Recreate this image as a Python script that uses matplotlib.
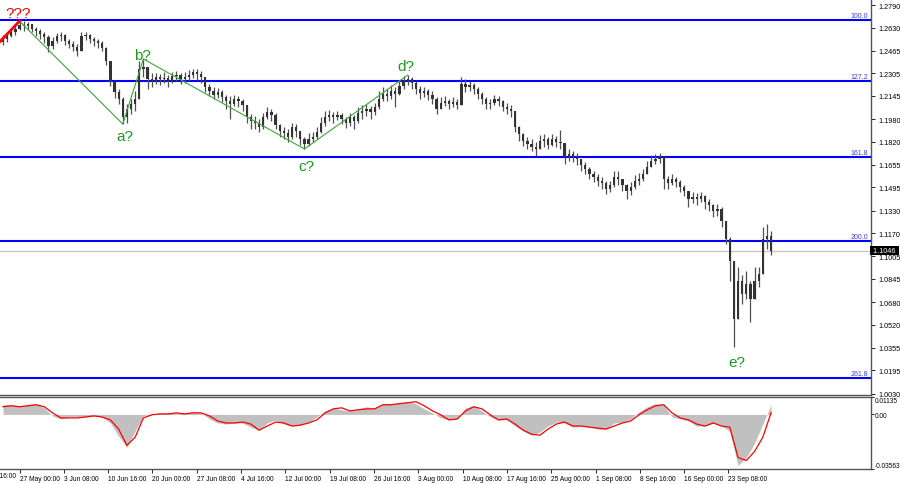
import numpy as np
import matplotlib
matplotlib.use("Agg")
import matplotlib.pyplot as plt
from matplotlib.transforms import blended_transform_factory

plt.rcParams['font.family'] = ['Liberation Sans', 'DejaVu Sans']

# 12h candles, GBP/USD, 19 May - 27 Sep
first_open = 1.2527
closes = [1.2549, 1.2570, 1.2598, 1.2620, 1.2648, 1.2641, 1.2655, 1.2620, 1.2605, 1.2584,
          1.2563, 1.2499, 1.2534, 1.2570, 1.2577, 1.2534, 1.2513, 1.2492, 1.2463, 1.2570,
          1.2577, 1.2549, 1.2534, 1.2520, 1.2485, 1.2392, 1.2250, 1.2172, 1.2123, 1.1995,
          1.2052, 1.2087, 1.2123, 1.2336, 1.2350, 1.2265, 1.2250, 1.2279, 1.2265, 1.2272,
          1.2250, 1.2286, 1.2293, 1.2265, 1.2279, 1.2293, 1.2314, 1.2300, 1.2279, 1.2208,
          1.2179, 1.2151, 1.2172, 1.2137, 1.2108, 1.2087, 1.2123, 1.2108, 1.2080, 1.1995,
          1.1966, 1.1952, 1.1924, 1.1995, 1.2030, 1.2009, 1.1938, 1.1895, 1.1881, 1.1853,
          1.1924, 1.1895, 1.1839, 1.1803, 1.1839, 1.1853, 1.1888, 1.1952, 1.1995, 1.2009,
          1.1995, 1.2009, 1.1981, 1.1952, 1.1995, 1.1966, 1.2023, 1.2037, 1.2052, 1.2030,
          1.2066, 1.2123, 1.2158, 1.2144, 1.2179, 1.2158, 1.2215, 1.2250, 1.2265, 1.2236,
          1.2194, 1.2165, 1.2179, 1.2151, 1.2123, 1.2052, 1.2094, 1.2108, 1.2087, 1.2101,
          1.2080, 1.2229, 1.2208, 1.2222, 1.2194, 1.2158, 1.2123, 1.2087, 1.2094, 1.2123,
          1.2108, 1.2066, 1.2052, 1.2037, 1.1924, 1.1874, 1.1824, 1.1803, 1.1782, 1.1768,
          1.1824, 1.1839, 1.1796, 1.1839, 1.1817, 1.1810, 1.1711, 1.1732, 1.1711, 1.1697,
          1.1654, 1.1626, 1.1590, 1.1569, 1.1540, 1.1526, 1.1484, 1.1512, 1.1569, 1.1555,
          1.1512, 1.1469, 1.1498, 1.1540, 1.1555, 1.1590, 1.1640, 1.1682, 1.1697, 1.1711,
          1.1555, 1.1526, 1.1555, 1.1533, 1.1498, 1.1469, 1.1413, 1.1427, 1.1413, 1.1434,
          1.1391, 1.1370, 1.1327, 1.1342, 1.1257, 1.1129, 1.0972, 1.0561, 1.0830, 1.0738,
          1.0809, 1.0703, 1.0830, 1.0880, 1.1129, 1.1150, 1.1046]
highs = [1.2577, 1.2598, 1.2627, 1.2648, 1.2676, 1.2676, 1.2669, 1.2655, 1.2634, 1.2620,
         1.2598, 1.2577, 1.2563, 1.2591, 1.2598, 1.2584, 1.2549, 1.2534, 1.2513, 1.2598,
         1.2598, 1.2584, 1.2563, 1.2549, 1.2534, 1.2492, 1.2392, 1.2250, 1.2194, 1.2137,
         1.2087, 1.2123, 1.2179, 1.2392, 1.2407, 1.2350, 1.2307, 1.2307, 1.2300, 1.2314,
         1.2293, 1.2314, 1.2321, 1.2307, 1.2314, 1.2329, 1.2336, 1.2336, 1.2321, 1.2279,
         1.2229, 1.2208, 1.2201, 1.2187, 1.2151, 1.2144, 1.2151, 1.2144, 1.2123, 1.2080,
         1.2016, 1.2002, 1.1981, 1.2023, 1.2066, 1.2052, 1.2023, 1.1945, 1.1924, 1.1910,
         1.1952, 1.1945, 1.1895, 1.1853, 1.1881, 1.1888, 1.1924, 1.1995, 1.2037, 1.2045,
         1.2030, 1.2037, 1.2023, 1.1995, 1.2023, 1.2009, 1.2066, 1.2080, 1.2087, 1.2073,
         1.2094, 1.2179, 1.2208, 1.2194, 1.2222, 1.2208, 1.2250, 1.2286, 1.2293, 1.2279,
         1.2250, 1.2215, 1.2208, 1.2194, 1.2179, 1.2137, 1.2137, 1.2144, 1.2123, 1.2137,
         1.2123, 1.2279, 1.2265, 1.2250, 1.2236, 1.2208, 1.2172, 1.2137, 1.2123, 1.2151,
         1.2144, 1.2116, 1.2094, 1.2080, 1.2037, 1.1931, 1.1881, 1.1853, 1.1839, 1.1817,
         1.1867, 1.1874, 1.1853, 1.1874, 1.1860, 1.1903, 1.1803, 1.1768, 1.1753, 1.1739,
         1.1697, 1.1675, 1.1640, 1.1611, 1.1590, 1.1569, 1.1540, 1.1540, 1.1611, 1.1611,
         1.1555, 1.1519, 1.1533, 1.1583, 1.1597, 1.1626, 1.1682, 1.1725, 1.1732, 1.1739,
         1.1711, 1.1576, 1.1590, 1.1569, 1.1548, 1.1512, 1.1469, 1.1462, 1.1455, 1.1462,
         1.1441, 1.1413, 1.1377, 1.1377, 1.1356, 1.1257, 1.1143, 1.0880, 1.0930, 1.0873,
         1.0901, 1.0830, 1.0930, 1.0930, 1.1214, 1.1235, 1.1185]
lows = [1.2506, 1.2527, 1.2563, 1.2577, 1.2612, 1.2605, 1.2612, 1.2598, 1.2570, 1.2549,
        1.2520, 1.2456, 1.2478, 1.2520, 1.2534, 1.2506, 1.2485, 1.2463, 1.2428, 1.2463,
        1.2542, 1.2520, 1.2499, 1.2485, 1.2463, 1.2364, 1.2215, 1.2130, 1.2087, 1.1945,
        1.1952, 1.2016, 1.2037, 1.2123, 1.2279, 1.2194, 1.2208, 1.2229, 1.2222, 1.2236,
        1.2208, 1.2236, 1.2250, 1.2229, 1.2236, 1.2250, 1.2272, 1.2258, 1.2236, 1.2172,
        1.2144, 1.2123, 1.2130, 1.2101, 1.2052, 1.1981, 1.2073, 1.2066, 1.2037, 1.1952,
        1.1910, 1.1910, 1.1888, 1.1910, 1.1981, 1.1966, 1.1910, 1.1853, 1.1839, 1.1817,
        1.1839, 1.1853, 1.1796, 1.1768, 1.1789, 1.1817, 1.1839, 1.1881, 1.1931, 1.1966,
        1.1952, 1.1974, 1.1945, 1.1917, 1.1931, 1.1910, 1.1952, 1.1981, 1.2002, 1.1981,
        1.2009, 1.2052, 1.2108, 1.2108, 1.2123, 1.2066, 1.2151, 1.2194, 1.2222, 1.2194,
        1.2158, 1.2123, 1.2137, 1.2116, 1.2087, 1.2016, 1.2052, 1.2073, 1.2052, 1.2066,
        1.2052, 1.2080, 1.2172, 1.2179, 1.2158, 1.2123, 1.2087, 1.2052, 1.2052, 1.2080,
        1.2073, 1.2037, 1.2016, 1.1995, 1.1888, 1.1824, 1.1789, 1.1768, 1.1753, 1.1718,
        1.1768, 1.1782, 1.1768, 1.1789, 1.1782, 1.1768, 1.1661, 1.1682, 1.1675, 1.1654,
        1.1611, 1.1590, 1.1555, 1.1533, 1.1505, 1.1484, 1.1448, 1.1462, 1.1498, 1.1512,
        1.1469, 1.1413, 1.1441, 1.1484, 1.1512, 1.1540, 1.1590, 1.1640, 1.1661, 1.1668,
        1.1484, 1.1484, 1.1512, 1.1498, 1.1462, 1.1434, 1.1356, 1.1384, 1.1370, 1.1391,
        1.1342, 1.1327, 1.1285, 1.1292, 1.1214, 1.1093, 1.0830, 1.0362, 1.0561, 1.0667,
        1.0703, 1.0539, 1.0759, 1.0788, 1.0880, 1.1058, 1.1015]

# oscillator, one value every 2 candles
macd = [0.0063, 0.0063, 0.0056, 0.0063, 0.0070, 0.0043, -0.0010, -0.0030, -0.0017, -0.0017,
        -0.0017, -0.0010, -0.0017, -0.0056, -0.0142, -0.0215, -0.0109, -0.0010, 0.0003, 0.0010,
        0.0010, 0.0010, 0.0010, 0.0017, 0.0010, -0.0030, -0.0056, -0.0063, -0.0056, -0.0056,
        -0.0083, -0.0103, -0.0056, -0.0036, -0.0063, -0.0076, -0.0070, -0.0050, -0.0017, 0.0023,
        0.0043, 0.0030, 0.0023, 0.0036, 0.0050, 0.0043, 0.0070, 0.0070, 0.0076, 0.0083,
        0.0070, 0.0036, 0.0010, -0.0023, -0.0036, -0.0030, 0.0043, 0.0056, 0.0023, -0.0017,
        -0.0036, -0.0036, -0.0076, -0.0109, -0.0136, -0.0116, -0.0076, -0.0050, -0.0056, -0.0083,
        -0.0076, -0.0083, -0.0096, -0.0096, -0.0056, -0.0050, -0.0030, 0.0017, 0.0050, 0.0070,
        0.0063, -0.0017, -0.0030, -0.0043, -0.0076, -0.0076, -0.0056, -0.0076, -0.0109, -0.0334,
        -0.0281, -0.0189, -0.0063, 0.0063]
signal = [0.0050, 0.0056, 0.0050, 0.0056, 0.0063, 0.0050, 0.0010, -0.0023, -0.0023, -0.0023,
          -0.0017, -0.0010, -0.0017, -0.0036, -0.0096, -0.0202, -0.0149, -0.0023, -0.0003, 0.0003,
          0.0003, 0.0010, 0.0003, 0.0010, 0.0010, -0.0010, -0.0043, -0.0056, -0.0056, -0.0050,
          -0.0063, -0.0103, -0.0076, -0.0050, -0.0056, -0.0076, -0.0070, -0.0056, -0.0036, 0.0010,
          0.0036, 0.0043, 0.0023, 0.0030, 0.0036, 0.0036, 0.0063, 0.0063, 0.0070, 0.0076,
          0.0083, 0.0056, 0.0023, -0.0003, -0.0036, -0.0030, 0.0023, 0.0050, 0.0036, -0.0003,
          -0.0036, -0.0030, -0.0063, -0.0103, -0.0129, -0.0136, -0.0096, -0.0063, -0.0050, -0.0076,
          -0.0076, -0.0083, -0.0089, -0.0096, -0.0076, -0.0056, -0.0043, -0.0003, 0.0030, 0.0056,
          0.0063, 0.0010, -0.0023, -0.0036, -0.0063, -0.0076, -0.0056, -0.0076, -0.0083, -0.0281,
          -0.0301, -0.0242, -0.0149, 0.0010]

fib_names = ['100.0', '127.2', '161.8', '200.0', '261.8']
fib_levels = [1.2684, 1.2252, 1.1712, 1.1114, 1.0142]
last_price = 1.1046

price_ticks = [1.2790, 1.2630, 1.2465, 1.2305, 1.2145, 1.1980, 1.1820, 1.1655, 1.1495,
               1.1330, 1.1170, 1.1005, 1.0845, 1.0680, 1.0520, 1.0355, 1.0195, 1.0030]
date_labels = ['19 May 16:00', '27 May 00:00', '3 Jun 08:00', '10 Jun 16:00', '20 Jun 00:00',
               '27 Jun 08:00', '4 Jul 16:00', '12 Jul 00:00', '19 Jul 08:00', '26 Jul 16:00',
               '3 Aug 00:00', '10 Aug 08:00', '17 Aug 16:00', '25 Aug 00:00', '1 Sep 08:00',
               '8 Sep 16:00', '16 Sep 00:00', '23 Sep 08:00']

# wave marks: candle index of each turning point
wave_idx = [4, 29, 34, 73, 98]
prev_wave_idx = [-3, 4]
prev_wave_price = [1.2461, 1.2676]

closes = np.array(closes)
opens = np.concatenate([[first_open], closes[:-1]])
highs = np.maximum(np.array(highs), np.maximum(opens, closes))
lows = np.minimum(np.array(lows), np.minimum(opens, closes))
idx = np.arange(len(closes))
ind_x = np.arange(0, len(closes), 2)

fig = plt.figure(figsize=(9, 4.85), dpi=100)
W, H = 900, 485
ax = fig.add_axes([0, 1 - 396 / H, 871 / W, 396 / H])
axi = fig.add_axes([0, 1 - 470 / H, 871 / W, 72 / H], sharex=ax)

xmin, xmax = -0.73, 210.2
ax.set_xlim(xmin, xmax)
ax.set_ylim(1.0021, 1.2833)

# candles
ax.vlines(idx, lows, highs, color='#505050', lw=0.9, zorder=3)
ax.bar(idx, np.abs(closes - opens), bottom=np.minimum(opens, closes), width=0.55,
       color='#333333', zorder=3)

# fibo levels
ytrans = blended_transform_factory(ax.transAxes, ax.transData)
for name, lvl in zip(fib_names, fib_levels):
    ax.axhline(lvl, color='#0000ff', lw=1.5, zorder=2)
    ax.text(0.997, lvl + 0.0007, name, transform=ytrans,
            ha='right', va='bottom', color='#3b3bff', fontsize=5)
ax.axhline(last_price, color='#c8c8c8', lw=1, zorder=1)

# waves
wave_price = [highs[wave_idx[0]], lows[wave_idx[1]], highs[wave_idx[2]],
              lows[wave_idx[3]], highs[wave_idx[4]]]
ax.plot(wave_idx, wave_price, color='#3aa83a', lw=0.8, zorder=4)
ax.plot(prev_wave_idx, prev_wave_price, color='#ff0000', lw=2, zorder=4)
green = '#1d9a1d'
ax.text(3.6, 1.2731, '???', color='#ff0000', fontsize=11, ha='center', va='center')
ax.text(29.5, 1.1862, 'a?', color=green, fontsize=11, ha='center', va='center')
ax.text(33.8, 1.2437, 'b?', color=green, fontsize=11, ha='center', va='center')
ax.text(73.6, 1.1647, 'c?', color=green, fontsize=11, ha='center', va='center')
ax.text(97.6, 1.2357, 'd?', color=green, fontsize=11, ha='center', va='center')
ax.text(177.7, 1.0255, 'e?', color=green, fontsize=11, ha='center', va='center')

# price axis
ax.yaxis.tick_right()
ax.set_yticks(price_ticks)
ax.set_yticklabels([f'{t:.4f}' for t in price_ticks])
ax.tick_params(axis='y', length=3, width=0.6, labelsize=5.2, pad=2, colors='black')
ax.tick_params(axis='x', bottom=False, labelbottom=False)
for s in ['left', 'top']:
    ax.spines[s].set_visible(False)
for s in ['right', 'bottom']:
    ax.spines[s].set_color('#555555')
    ax.spines[s].set_linewidth(1)
ax.text(1.0, last_price, ' 1.1046 ', transform=ytrans,
        ha='left', va='center', color='white', fontsize=5.2,
        bbox=dict(facecolor='black', edgecolor='none', pad=0.8), clip_on=False, zorder=10)

# oscillator
axi.set_ylim(-0.03563, 0.01135)
axi.fill_between(ind_x, 0, macd, color='#c0c0c0', lw=0, zorder=2)
axi.plot(ind_x, signal, color='#ff0000', lw=0.9, zorder=3)
axi.yaxis.tick_right()
axi.set_yticks([-0.03563, 0.0, 0.01135])
axi.set_yticklabels(['-0.03563', '0.00', '0.01135'])
axi.tick_params(axis='y', length=2, width=0.6, labelsize=4.7, pad=0.8)
ylab = axi.get_yticklabels()
ylab[0].set_va('bottom')
ylab[2].set_va('top')
axi.spines['left'].set_visible(False)
for s in ['right', 'bottom', 'top']:
    axi.spines[s].set_color('#555555')
    axi.spines[s].set_linewidth(1)

spacing = 10.73
tick_pos = 4 + spacing * (np.arange(len(date_labels)) - 1)
axi.set_xticks(tick_pos[1:])
axi.set_xticklabels(date_labels[1:])
axi.tick_params(axis='x', length=3, width=0.6, labelsize=4.8, pad=1.5)
for lab in axi.get_xticklabels():
    lab.set_ha('left')
axi.text(tick_pos[0] + 0.3, -0.035, date_labels[0],
         transform=blended_transform_factory(axi.transData, axi.transAxes),
         ha='left', va='top', fontsize=4.8, clip_on=False)
axi.set_xlim(xmin, xmax)

fig.savefig('out.png', dpi=100, facecolor='white')
